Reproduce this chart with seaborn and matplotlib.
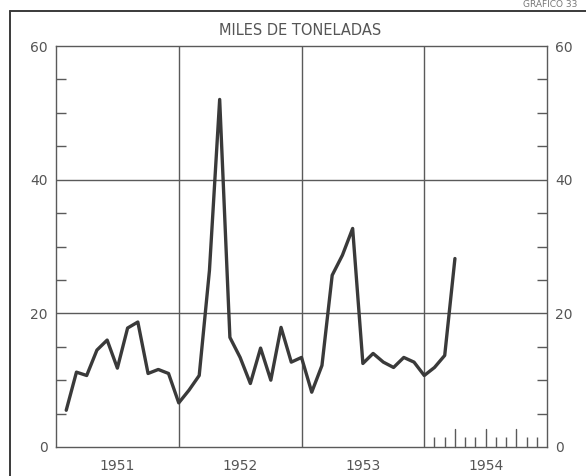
import pandas as pd
import matplotlib.pyplot as plt
import seaborn as sns
from matplotlib.lines import Line2D

# monthly values, thousand tonnes (Jan 1951 - Mar 1954)
v1951 = [5.5, 11.2, 10.7, 14.5, 16.0, 11.8, 17.8, 18.7, 11.0, 11.6, 11.0, 6.6]
v1952 = [8.5, 10.7, 26.4, 52.0, 16.4, 13.4, 9.5, 14.8, 10.0, 17.9, 12.7, 13.4]
v1953 = [8.2, 12.2, 25.7, 28.7, 32.7, 12.5, 14.0, 12.7, 11.9, 13.4, 12.7, 10.7]
v1954 = [11.9, 13.7, 28.2]
years = ['1951', '1952', '1953', '1954']
y_labels = ['0', '20', '40', '60']

values = v1951 + v1952 + v1953 + v1954
df = pd.DataFrame({'mes': range(1, len(values) + 1), 'toneladas': values})

sns.set_style('white')
plt.rcParams['font.family'] = ['DejaVu Sans']

ink = '#3a3a3a'
grid = '#5a5a5a'

fig = plt.figure(figsize=(5.86, 4.76), dpi=100)
ax = fig.add_axes([56 / 586, 1 - 447 / 476, 491 / 586, 401 / 476])

sns.lineplot(data=df, x='mes', y='toneladas', ax=ax, color=ink, linewidth=2.4)

ax.set_xlim(0, 48)
ax.set_ylim(0, 60)
ax.set_xlabel('')
ax.set_ylabel('')

# grid lines at 20/40 and year boundaries
for y in (20, 40):
    ax.axhline(y, color=grid, linewidth=1.0, zorder=0)
for x in (12, 24, 36):
    ax.axvline(x, color=grid, linewidth=1.0, zorder=0)

for s in ax.spines.values():
    s.set_color(grid)
    s.set_linewidth(1.0)

# left / right labels
ax.set_yticks([0, 20, 40, 60])
ax.set_yticklabels(y_labels)
ax.set_yticks([5, 10, 15, 25, 30, 35, 45, 50, 55], minor=True)
ax.tick_params(axis='y', which='major', length=0, labelsize=10, labelcolor='#555555',
               left=True, right=True, labelleft=True, labelright=True, pad=6)
ax.tick_params(axis='y', which='minor', direction='in', length=7, width=1.0,
               color=grid, left=True, right=True)

# year labels centred under each year, month ticks in 1954
ax.set_xticks([6, 18, 30, 42])
ax.set_xticklabels(years)
ax.tick_params(axis='x', which='major', length=0, labelsize=10, labelcolor='#555555', pad=9)
ax.set_xticks([37, 38, 40, 41, 43, 44, 46, 47], minor=True)
ax.tick_params(axis='x', which='minor', direction='in', length=7, width=1.0,
               color=grid, bottom=True)
for x in (39, 42, 45):
    ax.plot([x, x], [0, 2.7], color=grid, linewidth=1.0, clip_on=False)

fig.text(0.512, 0.935, 'MILES DE TONELADAS', ha='center', va='center',
         fontsize=10.5, color='#555555')
fig.text(0.985, 0.999, 'GRAFICO 33', ha='right', va='top',
         fontsize=6.5, color='#777777')

# outer frame of the page
fig.add_artist(Line2D([10 / 586, 10 / 586], [0, 1 - 11 / 476], color=ink, linewidth=1.4))
fig.add_artist(Line2D([10 / 586, 1], [1 - 11 / 476, 1 - 11 / 476], color=ink, linewidth=1.4))

plt.savefig('out.png', dpi=100)
